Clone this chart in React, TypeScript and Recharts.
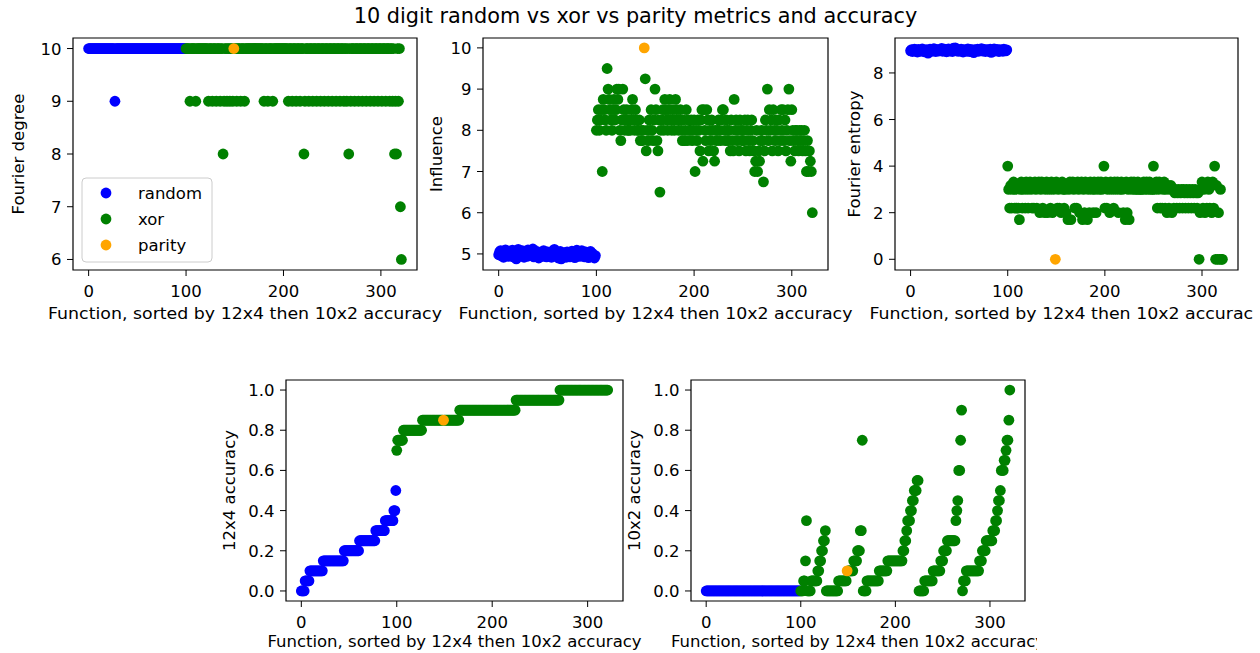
import React from 'react';
import { ScatterChart, Scatter, XAxis, YAxis, ReferenceArea } from 'recharts';

const FONT = '"DejaVu Sans", "Liberation Sans", sans-serif';
const BLUE = '#0000ff';
const GREEN = '#008000';
const ORANGE = '#ffa500';
const R = 5.4;

// ---------- tick labels ----------
const X_TICKS = [0, 100, 200, 300];
const DEGREE_TICKS = [6, 7, 8, 9, 10];
const INFLUENCE_TICKS = [5, 6, 7, 8, 9, 10];
const ENTROPY_TICKS = [0, 2, 4, 6, 8];
const ACC_TICKS = [0, 0.2, 0.4, 0.6, 0.8, 1.0];
const SERIES_NAMES = ['random', 'xor', 'parity'];

// ---------- random functions (rank 0..99) ----------
const randomDegree = [
  10, 10, 10, 10, 10, 10, 10, 10, 10, 10,
  10, 10, 10, 10, 10, 10, 10, 10, 10, 10,
  10, 10, 10, 10, 10, 10, 10, 9, 10, 10,
  10, 10, 10, 10, 10, 10, 10, 10, 10, 10,
  10, 10, 10, 10, 10, 10, 10, 10, 10, 10,
  10, 10, 10, 10, 10, 10, 10, 10, 10, 10,
  10, 10, 10, 10, 10, 10, 10, 10, 10, 10,
  10, 10, 10, 10, 10, 10, 10, 10, 10, 10,
  10, 10, 10, 10, 10, 10, 10, 10, 10, 10,
  10, 10, 10, 10, 10, 10, 10, 10, 10, 10,
];
const randomInfluence = [
  4.98, 5.05, 5.08, 4.95, 5.02, 4.92, 5.06, 5.10, 4.97, 5.03,
  4.94, 5.07, 5.00, 4.96, 5.09, 4.93, 5.04, 4.99, 4.88, 5.06,
  5.11, 4.97, 5.02, 4.95, 5.08, 4.98, 4.92, 5.05, 5.00, 4.94,
  5.10, 5.03, 4.96, 5.07, 4.99, 5.12, 4.93, 5.01, 4.97, 5.06,
  4.95, 4.90, 5.04, 4.98, 5.02, 4.94, 5.08, 4.97, 5.00, 4.93,
  5.05, 4.99, 4.96, 5.03, 4.92, 5.07, 4.98, 5.11, 5.01, 4.95,
  5.04, 4.90, 4.97, 5.06, 4.88, 5.00, 4.94, 5.03, 4.99, 4.92,
  5.05, 4.96, 5.01, 4.93, 4.98, 5.07, 4.95, 5.02, 4.91, 5.06,
  5.09, 4.97, 5.04, 4.94, 5.00, 5.08, 4.96, 5.02, 4.93, 5.05,
  4.99, 5.03, 4.91, 4.97, 5.06, 4.95, 5.01, 4.94, 4.90, 4.96,
];
const randomEntropy = [
  8.95, 9.00, 8.92, 8.97, 9.02, 8.94, 8.98, 8.90, 9.01, 8.96,
  8.93, 8.99, 9.03, 8.95, 8.91, 8.97, 9.00, 8.94, 8.85, 8.98,
  9.02, 8.96, 8.93, 8.99, 9.04, 8.95, 8.92, 9.01, 8.97, 8.94,
  9.00, 8.96, 9.05, 8.93, 8.98, 9.02, 8.95, 8.91, 8.99, 9.03,
  8.94, 8.97, 9.00, 8.92, 9.06, 8.96, 9.08, 8.95, 9.01, 8.93,
  8.98, 8.94, 9.02, 8.97, 8.90, 9.00, 8.95, 8.99, 8.93, 9.03,
  8.96, 8.92, 9.01, 8.94, 8.98, 8.87, 9.00, 8.95, 8.97, 9.02,
  8.93, 8.99, 8.96, 9.04, 8.94, 8.98, 9.01, 8.92, 8.97, 9.00,
  8.95, 8.93, 9.02, 8.88, 8.96, 8.99, 9.03, 8.94, 8.97, 9.01,
  8.95, 8.92, 9.00, 8.96, 8.98, 8.93, 9.02, 8.97, 8.95, 8.99,
];
const randomAcc12 = [
  0, 0, 0, 0, 0.05, 0.05, 0.05, 0.05, 0.05, 0.1,
  0.1, 0.1, 0.1, 0.1, 0.1, 0.1, 0.1, 0.1, 0.1, 0.1,
  0.1, 0.1, 0.1, 0.15, 0.15, 0.15, 0.15, 0.15, 0.15, 0.15,
  0.15, 0.15, 0.15, 0.15, 0.15, 0.15, 0.15, 0.15, 0.15, 0.15,
  0.15, 0.15, 0.15, 0.15, 0.15, 0.2, 0.2, 0.2, 0.2, 0.2,
  0.2, 0.2, 0.2, 0.2, 0.2, 0.2, 0.2, 0.2, 0.2, 0.2,
  0.2, 0.25, 0.25, 0.25, 0.25, 0.25, 0.25, 0.25, 0.25, 0.25,
  0.25, 0.25, 0.25, 0.25, 0.25, 0.25, 0.25, 0.25, 0.3, 0.3,
  0.3, 0.3, 0.3, 0.3, 0.3, 0.3, 0.3, 0.3, 0.35, 0.35,
  0.35, 0.35, 0.35, 0.35, 0.35, 0.35, 0.35, 0.4, 0.4, 0.5,
];
const randomAcc10 = [
  0, 0, 0, 0, 0, 0, 0, 0, 0, 0,
  0, 0, 0, 0, 0, 0, 0, 0, 0, 0,
  0, 0, 0, 0, 0, 0, 0, 0, 0, 0,
  0, 0, 0, 0, 0, 0, 0, 0, 0, 0,
  0, 0, 0, 0, 0, 0, 0, 0, 0, 0,
  0, 0, 0, 0, 0, 0, 0, 0, 0, 0,
  0, 0, 0, 0, 0, 0, 0, 0, 0, 0,
  0, 0, 0, 0, 0, 0, 0, 0, 0, 0,
  0, 0, 0, 0, 0, 0, 0, 0, 0, 0,
  0, 0, 0, 0, 0, 0, 0, 0, 0, 0,
];

// ---------- xor functions (ranks 100..148, 150..321) ----------
const xorDegree = [
  10, 10, 10, 10, 9, 10, 10, 10, 10, 10, // 100
  9, 10, 10, 10, 10, 10, 10, 10, 10, 10, // 110
  10, 10, 10, 9, 10, 10, 10, 9, 10, 10, // 120
  10, 9, 10, 10, 10, 9, 10, 10, 8, 9, // 130
  10, 10, 9, 10, 10, 9, 10, 10, 9, // 140-148
  10, 10, 9, 10, 10, 10, 9, 10, 10, 10, // 150
  9, 10, 10, 10, 10, 10, 10, 10, 10, 10, // 160
  10, 10, 10, 10, 10, 10, 10, 10, 10, 10, // 170
  9, 10, 10, 10, 9, 10, 10, 10, 10, 9, // 180
  10, 10, 10, 10, 10, 10, 10, 10, 10, 10, // 190
  10, 10, 10, 10, 10, 9, 10, 10, 10, 9, // 200
  10, 10, 10, 9, 10, 10, 10, 9, 10, 10, // 210
  10, 8, 9, 10, 10, 10, 9, 10, 10, 10, // 220
  9, 10, 10, 10, 9, 10, 10, 10, 9, 10, // 230
  10, 10, 9, 10, 10, 10, 9, 10, 10, 10, // 240
  9, 10, 10, 10, 9, 10, 10, 10, 9, 10, // 250
  10, 10, 9, 10, 10, 9, 10, 8, 10, 9, // 260
  10, 10, 10, 9, 10, 10, 10, 9, 10, 10, // 270
  10, 9, 10, 10, 10, 9, 10, 10, 10, 9, // 280
  10, 10, 10, 9, 10, 10, 10, 9, 10, 10, // 290
  10, 9, 10, 10, 10, 9, 10, 10, 10, 9, // 300
  10, 10, 9, 10, 8, 9, 8, 10, 9, 10, // 310
  7, 6, // 320
];
const xorInfluence = [
  8.0, 8.25, 8.5, 8.0, 8.25, 8.5, 7.0, 8.75, 8.5, 8.25, // 100
  8.0, 9.5, 9.0, 8.75, 8.5, 8.25, 8.0, 8.5, 8.75, 8.25, // 110
  8.5, 9.0, 8.75, 9.0, 8.0, 7.75, 8.25, 9.0, 8.5, 8.0, // 120
  8.25, 8.5, 8.0, 8.0, 8.25, 8.0, 8.5, 8.75, 8.25, 8.0, // 130
  8.5, 8.25, 8.0, 8.0, 8.25, 7.75, 8.0, 7.75, 8.0, // 140-148
  9.25, 7.5, 8.0, 7.75, 8.25, 8.0, 8.5, 8.0, 7.75, 8.25, // 150
  9.0, 8.5, 7.75, 7.5, 8.25, 6.5, 8.0, 8.25, 8.5, 8.0, // 160
  8.75, 8.5, 8.25, 8.0, 8.5, 8.75, 8.25, 8.0, 8.5, 8.25, // 170
  8.0, 8.75, 8.5, 8.25, 8.0, 8.25, 8.5, 8.0, 7.75, 8.25, // 180
  7.75, 8.0, 8.5, 7.75, 8.25, 8.0, 8.0, 8.25, 7.75, 8.0, // 190
  8.25, 7.0, 8.0, 7.75, 8.25, 8.0, 7.5, 8.25, 8.5, 7.25, // 200
  8.5, 8.0, 7.75, 8.5, 8.25, 7.5, 8.0, 7.75, 8.25, 8.0, // 210
  7.5, 7.25, 8.0, 7.75, 8.0, 8.25, 8.0, 7.75, 8.25, 8.5, // 220
  8.5, 8.0, 7.75, 8.25, 8.0, 7.75, 8.0, 7.5, 8.25, 7.75, // 230
  7.5, 8.75, 8.0, 8.25, 7.75, 8.0, 7.5, 8.25, 8.0, 7.75, // 240
  8.0, 7.75, 8.25, 7.5, 8.0, 8.25, 7.75, 7.5, 8.0, 8.25, // 250
  7.75, 7.5, 7.0, 7.25, 8.0, 7.0, 7.5, 7.25, 7.75, 8.0, // 260
  7.75, 6.75, 7.5, 8.25, 8.0, 9.0, 7.75, 8.5, 8.0, 8.25, // 270
  7.5, 8.5, 8.0, 7.75, 8.25, 8.0, 7.5, 8.25, 7.75, 8.5, // 280
  8.0, 8.5, 7.75, 8.25, 7.5, 8.0, 8.5, 9.0, 7.75, 7.25, // 290
  8.5, 8.0, 7.75, 7.5, 8.0, 8.0, 7.75, 7.5, 8.0, 7.75, // 300
  8.0, 7.5, 7.75, 8.0, 7.5, 7.0, 7.75, 7.0, 7.5, 7.25, // 310
  7.0, 6.0, // 320
];
const xorEntropy = [
  4.0, 3.0, 2.2, 3.17, 2.2, 3.0, 3.32, 2.2, 3.0, 2.2, // 100
  3.17, 2.2, 1.7, 3.0, 3.32, 2.2, 3.0, 3.17, 2.2, 3.32, // 110
  3.0, 2.2, 3.17, 3.32, 3.0, 2.2, 3.17, 2.2, 3.32, 3.0, // 120
  2.2, 3.17, 3.32, 2.0, 3.0, 3.32, 2.2, 3.17, 2.0, 3.0, // 130
  3.32, 2.0, 3.17, 3.0, 2.2, 3.32, 2.0, 3.0, 3.17, // 140-148
  3.32, 2.2, 3.0, 2.2, 3.17, 2.0, 3.32, 3.0, 2.2, 3.0, // 150
  2.0, 3.17, 1.7, 3.0, 3.32, 1.7, 3.17, 3.32, 3.0, 2.2, // 160
  3.17, 2.2, 3.32, 3.0, 2.0, 3.17, 3.32, 1.7, 3.0, 2.0, // 170
  3.32, 3.17, 1.7, 3.0, 2.0, 3.32, 3.17, 3.0, 2.0, 3.32, // 180
  3.0, 2.0, 3.17, 3.32, 3.0, 3.17, 3.32, 3.0, 3.17, 4.0, // 190
  2.2, 3.32, 2.2, 3.0, 3.17, 2.0, 3.32, 3.0, 3.17, 2.2, // 200
  3.32, 3.0, 3.17, 3.32, 2.0, 3.0, 3.17, 3.32, 3.0, 2.0, // 210
  3.17, 1.7, 3.32, 2.0, 3.0, 1.7, 3.17, 3.32, 3.0, 3.17, // 220
  3.32, 3.0, 3.17, 3.0, 3.32, 3.0, 3.17, 3.0, 3.0, 3.17, // 230
  3.32, 3.0, 3.17, 3.32, 3.0, 3.17, 3.32, 3.0, 3.17, 3.0, // 240
  4.0, 3.0, 3.17, 3.32, 2.2, 3.0, 3.32, 2.2, 3.17, 2.2, // 250
  3.0, 3.32, 2.2, 3.0, 2.0, 3.17, 2.2, 3.0, 3.17, 2.0, // 260
  3.0, 2.2, 2.85, 3.0, 2.2, 2.85, 3.0, 2.2, 2.85, 3.0, // 270
  2.2, 3.0, 2.85, 2.2, 3.0, 2.85, 2.2, 3.0, 2.85, 2.2, // 280
  3.0, 2.85, 2.2, 3.0, 2.85, 2.2, 2.85, 0, 2.0, 3.0, // 290
  3.32, 2.2, 3.0, 2.0, 3.17, 2.2, 3.32, 3.0, 2.2, 3.17, // 300
  2.0, 3.32, 2.2, 4.0, 0, 3.17, 0, 2.0, 0, 3.0, // 310
  0, 0, // 320
];
const xorAcc12 = [
  0.7, 0.75, 0.75, 0.75, 0.75, 0.75, 0.75, 0.8, 0.8, 0.8, // 100
  0.8, 0.8, 0.8, 0.8, 0.8, 0.8, 0.8, 0.8, 0.8, 0.8, // 110
  0.8, 0.8, 0.8, 0.8, 0.8, 0.8, 0.8, 0.85, 0.85, 0.85, // 120
  0.85, 0.85, 0.85, 0.85, 0.85, 0.85, 0.85, 0.85, 0.85, 0.85, // 130
  0.85, 0.85, 0.85, 0.85, 0.85, 0.85, 0.85, 0.85, 0.85, // 140-148
  0.85, 0.85, 0.85, 0.85, 0.85, 0.85, 0.85, 0.85, 0.85, 0.85, // 150
  0.85, 0.85, 0.85, 0.85, 0.85, 0.85, 0.9, 0.9, 0.9, 0.9, // 160
  0.9, 0.9, 0.9, 0.9, 0.9, 0.9, 0.9, 0.9, 0.9, 0.9, // 170
  0.9, 0.9, 0.9, 0.9, 0.9, 0.9, 0.9, 0.9, 0.9, 0.9, // 180
  0.9, 0.9, 0.9, 0.9, 0.9, 0.9, 0.9, 0.9, 0.9, 0.9, // 190
  0.9, 0.9, 0.9, 0.9, 0.9, 0.9, 0.9, 0.9, 0.9, 0.9, // 200
  0.9, 0.9, 0.9, 0.9, 0.9, 0.9, 0.9, 0.9, 0.9, 0.9, // 210
  0.9, 0.9, 0.9, 0.9, 0.9, 0.95, 0.95, 0.95, 0.95, 0.95, // 220
  0.95, 0.95, 0.95, 0.95, 0.95, 0.95, 0.95, 0.95, 0.95, 0.95, // 230
  0.95, 0.95, 0.95, 0.95, 0.95, 0.95, 0.95, 0.95, 0.95, 0.95, // 240
  0.95, 0.95, 0.95, 0.95, 0.95, 0.95, 0.95, 0.95, 0.95, 0.95, // 250
  0.95, 0.95, 0.95, 0.95, 0.95, 0.95, 0.95, 0.95, 0.95, 0.95, // 260
  0.95, 1.0, 1.0, 1.0, 1.0, 1.0, 1.0, 1.0, 1.0, 1.0, // 270
  1.0, 1.0, 1.0, 1.0, 1.0, 1.0, 1.0, 1.0, 1.0, 1.0, // 280
  1.0, 1.0, 1.0, 1.0, 1.0, 1.0, 1.0, 1.0, 1.0, 1.0, // 290
  1.0, 1.0, 1.0, 1.0, 1.0, 1.0, 1.0, 1.0, 1.0, 1.0, // 300
  1.0, 1.0, 1.0, 1.0, 1.0, 1.0, 1.0, 1.0, 1.0, 1.0, // 310
  1.0, 1.0, // 320
];
const xorAcc10 = [
  0, 0, 0, 0.05, 0.05, 0.15, 0.35, 0, 0, 0, // 100
  0, 0.05, 0.05, 0.05, 0.05, 0.05, 0.05, 0.05, 0.1, 0.1, // 110
  0.15, 0.15, 0.2, 0.2, 0.25, 0.25, 0.3, 0, 0, 0, // 120
  0, 0, 0, 0, 0, 0, 0, 0, 0, 0, // 130
  0.05, 0.05, 0.05, 0.05, 0.05, 0.05, 0.05, 0.05, 0.05, // 140-148
  0.1, 0.1, 0.1, 0.1, 0.1, 0.1, 0.15, 0.15, 0.15, 0.15, // 150
  0.2, 0.2, 0.2, 0.3, 0.3, 0.75, 0, 0, 0, 0, // 160
  0.05, 0.05, 0.05, 0.05, 0.05, 0.05, 0.05, 0.05, 0.05, 0.05, // 170
  0.05, 0.05, 0.05, 0.1, 0.1, 0.1, 0.1, 0.1, 0.1, 0.1, // 180
  0.1, 0.1, 0.15, 0.15, 0.15, 0.15, 0.15, 0.15, 0.15, 0.15, // 190
  0.15, 0.15, 0.15, 0.15, 0.15, 0.15, 0.15, 0.15, 0.2, 0.2, // 200
  0.25, 0.25, 0.3, 0.35, 0.35, 0.35, 0.4, 0.4, 0.45, 0.45, // 210
  0.5, 0.5, 0.5, 0.55, 0.55, 0, 0, 0, 0, 0, // 220
  0, 0.05, 0.05, 0.05, 0.05, 0.05, 0.05, 0.05, 0.05, 0.05, // 230
  0.1, 0.1, 0.1, 0.1, 0.1, 0.1, 0.1, 0.1, 0.15, 0.15, // 240
  0.15, 0.2, 0.2, 0.2, 0.2, 0.25, 0.25, 0.25, 0.25, 0.25, // 250
  0.25, 0.25, 0.25, 0.25, 0.35, 0.4, 0.45, 0.6, 0.6, 0.75, // 260
  0.9, 0, 0.05, 0.05, 0.05, 0.1, 0.1, 0.1, 0.1, 0.1, // 270
  0.1, 0.1, 0.1, 0.1, 0.1, 0.1, 0.1, 0.1, 0.1, 0.15, // 280
  0.15, 0.15, 0.2, 0.2, 0.2, 0.2, 0.25, 0.25, 0.25, 0.25, // 290
  0.25, 0.25, 0.25, 0.3, 0.3, 0.3, 0.35, 0.35, 0.4, 0.45, // 300
  0.45, 0.5, 0.6, 0.6, 0.6, 0.65, 0.65, 0.7, 0.75, 0.75, // 310
  0.85, 1.0, // 320
];

// ---------- parity function ----------
const PARITY_RANK = 149;
const parityDegree = [10];
const parityInfluence = [10];
const parityEntropy = [0];
const parityAcc12 = [0.85];
const parityAcc10 = [0.1];

// ranks = position in the sorted function list
const randomRanks = randomDegree.map((_, i) => i);
const xorRanks = xorDegree.map((_, i) => (i < PARITY_RANK - 100 ? 100 + i : 101 + i));
const parityRanks = [PARITY_RANK];

type Pt = { x: number; y: number };
const pts = (xs: number[], ys: number[]): Pt[] => xs.map((x, i) => ({ x, y: ys[i] }));

const X_DOMAIN: [number, number] = [-16.05, 337.05];
const FS = 16.5;

const XTick = (p: any) => (
  <text x={p.x} y={p.y + 20.5} textAnchor="middle" fontSize={FS} fontFamily={FONT} fill="#000">
    {p.payload.value}
  </text>
);
const makeYTick = (fmt: (v: number) => string) => (p: any) => (
  <text x={p.x - 5.5} y={p.y + 6} textAnchor="end" fontSize={FS} fontFamily={FONT} fill="#000">
    {fmt(p.payload.value)}
  </text>
);
const dot = (color: string) => (p: any) => <circle cx={p.cx} cy={p.cy} r={R} fill={color} />;

type PanelProps = {
  left: number; top: number; right: number; bottom: number;
  yDomain: [number, number]; yTicks: number[]; fmt: (v: number) => string;
  rnd: Pt[]; xor: Pt[]; par: Pt[];
};

function Panel({ left, top, right, bottom, yDomain, yTicks, fmt, rnd, xor, par }: PanelProps) {
  const w = right - left;
  const h = bottom - top;
  return (
    <div style={{ position: 'absolute', left: left - 60, top: top - 10 }}>
      <ScatterChart width={w + 70} height={h + 50} margin={{ top: 10, right: 10, bottom: 0, left: 0 }}>
        <XAxis type="number" dataKey="x" domain={X_DOMAIN} ticks={X_TICKS} allowDataOverflow
          height={40} tickSize={6} tickMargin={0} axisLine={false} tickLine={{ stroke: '#000' }}
          tick={XTick} interval={0} />
        <YAxis type="number" dataKey="y" domain={yDomain} ticks={yTicks} allowDataOverflow
          width={60} tickSize={6} tickMargin={0} axisLine={false} tickLine={{ stroke: '#000' }}
          tick={makeYTick(fmt)} interval={0} />
        <Scatter name={SERIES_NAMES[0]} data={rnd} fill={BLUE} shape={dot(BLUE)} isAnimationActive={false} />
        <Scatter name={SERIES_NAMES[1]} data={xor} fill={GREEN} shape={dot(GREEN)} isAnimationActive={false} />
        <Scatter name={SERIES_NAMES[2]} data={par} fill={ORANGE} shape={dot(ORANGE)} isAnimationActive={false} />
        <ReferenceArea x1={X_DOMAIN[0]} x2={X_DOMAIN[1]} y1={yDomain[0]} y2={yDomain[1]}
          fill="none" fillOpacity={0} stroke="#000" strokeWidth={1.2} ifOverflow="visible" />
      </ScatterChart>
    </div>
  );
}

const intFmt = (v: number) => String(v);
const accFmt = (v: number) => v.toFixed(1);
const X_LABEL = 'Function, sorted by 12x4 then 10x2 accuracy';
const TOP_SX = 1.053;

export default function App() {
  return (
    <div style={{ position: 'absolute', left: 0, top: 0, width: 1260, height: 653, background: '#fff', overflow: 'hidden' }}>
      <Panel left={73} top={38} right={417} bottom={270} yDomain={[5.8, 10.2]} yTicks={DEGREE_TICKS} fmt={intFmt}
        rnd={pts(randomRanks, randomDegree)} xor={pts(xorRanks, xorDegree)} par={pts(parityRanks, parityDegree)} />
      <Panel left={483} top={38} right={828} bottom={270} yDomain={[4.61, 10.24]} yTicks={INFLUENCE_TICKS} fmt={intFmt}
        rnd={pts(randomRanks, randomInfluence)} xor={pts(xorRanks, xorInfluence)} par={pts(parityRanks, parityInfluence)} />
      <Panel left={895} top={38} right={1238} bottom={270} yDomain={[-0.46, 9.5]} yTicks={ENTROPY_TICKS} fmt={intFmt}
        rnd={pts(randomRanks, randomEntropy)} xor={pts(xorRanks, xorEntropy)} par={pts(parityRanks, parityEntropy)} />
      <Panel left={286} top={380} right={623} bottom={601} yDomain={[-0.05, 1.05]} yTicks={ACC_TICKS} fmt={accFmt}
        rnd={pts(randomRanks, randomAcc12)} xor={pts(xorRanks, xorAcc12)} par={pts(parityRanks, parityAcc12)} />
      <Panel left={691} top={380} right={1025} bottom={601} yDomain={[-0.05, 1.05]} yTicks={ACC_TICKS} fmt={accFmt}
        rnd={pts(randomRanks, randomAcc10)} xor={pts(xorRanks, xorAcc10)} par={pts(parityRanks, parityAcc10)} />

      <svg width={1260} height={653} style={{ position: 'absolute', left: 0, top: 0, pointerEvents: 'none' }}
        fontFamily={FONT} fill="#000">
        <defs>
          <clipPath id="clipRight"><rect x={0} y={0} width={1253} height={653} /></clipPath>
          <clipPath id="clipP5"><rect x={0} y={0} width={1037} height={653} /></clipPath>
        </defs>
        <text x={635.5} y={23} fontSize={20.8} textAnchor="middle">10 digit random vs xor vs parity metrics and accuracy</text>

        <text transform={`translate(245,319) scale(${TOP_SX},1)`} fontSize={FS} textAnchor="middle">{X_LABEL}</text>
        <text transform={`translate(655.5,319) scale(${TOP_SX},1)`} fontSize={FS} textAnchor="middle">{X_LABEL}</text>
        <g clipPath="url(#clipRight)">
          <text transform={`translate(1066.5,319) scale(${TOP_SX},1)`} fontSize={FS} textAnchor="middle">{X_LABEL}</text>
        </g>
        <text x={454.5} y={647} fontSize={FS} textAnchor="middle">{X_LABEL}</text>
        <g clipPath="url(#clipP5)">
          <text x={858} y={647} fontSize={FS} textAnchor="middle">{X_LABEL}</text>
        </g>

        <text transform="translate(24,154) rotate(-90)" fontSize={FS} textAnchor="middle">Fourier degree</text>
        <text transform="translate(442,154) rotate(-90)" fontSize={FS} textAnchor="middle">Influence</text>
        <text transform="translate(860,154) rotate(-90)" fontSize={FS} textAnchor="middle">Fourier entropy</text>
        <text transform="translate(235,490.5) rotate(-90)" fontSize={FS} textAnchor="middle">12x4 accuracy</text>
        <text transform="translate(640,490.5) rotate(-90)" fontSize={FS} textAnchor="middle">10x2 accuracy</text>

        <rect x={82} y={178} width={130} height={84} rx={4} fill="#fff" fillOpacity={0.8} stroke="#cccccc" />
        <circle cx={106} cy={193} r={R} fill={BLUE} />
        <circle cx={106} cy={219} r={R} fill={GREEN} />
        <circle cx={106} cy={245} r={R} fill={ORANGE} />
        <text x={138} y={199} fontSize={FS}>{SERIES_NAMES[0]}</text>
        <text x={138} y={225} fontSize={FS}>{SERIES_NAMES[1]}</text>
        <text x={138} y={251} fontSize={FS}>{SERIES_NAMES[2]}</text>
      </svg>
    </div>
  );
}
